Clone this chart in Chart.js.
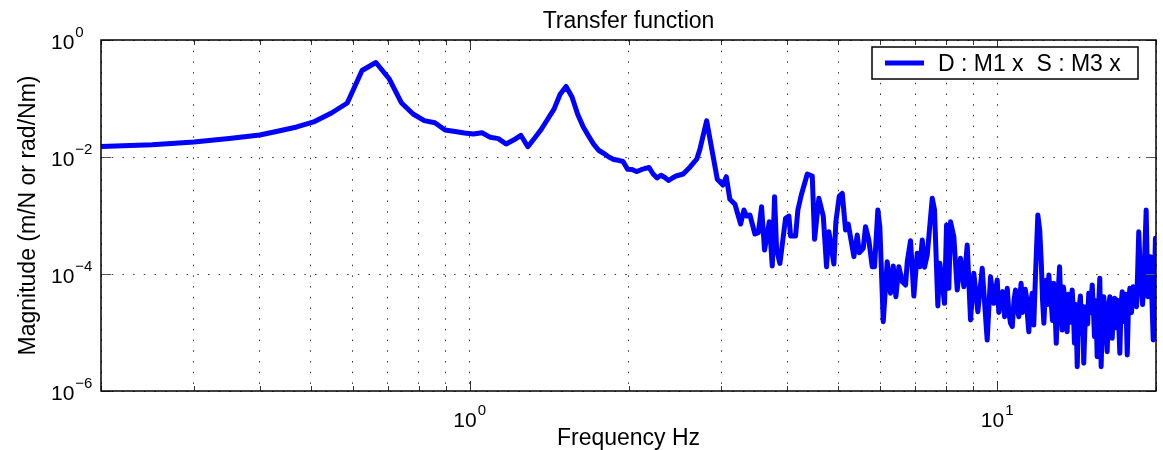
<!DOCTYPE html>
<html>
<head>
<meta charset="utf-8">
<script src="https://cdn.jsdelivr.net/npm/chart.js@4.4.1/dist/chart.umd.min.js"></script>
<style>
  html, body { margin: 0; padding: 0; background: #fff; }
  #wrap { width: 1163px; height: 450px; }
</style>
</head>
<body>
<div id="wrap"><canvas id="tfChart" width="1163" height="450"></canvas></div>
<script>
const FONT = '"Liberation Sans", Arial, Helvetica, sans-serif';

// frequency (Hz) and magnitude
const freqHz = [
  0.2, 0.25, 0.3, 0.35, 0.4, 0.43, 0.47, 0.508, 0.547, 0.586,
  0.625, 0.664, 0.703, 0.742, 0.781, 0.820, 0.859, 0.898, 0.938, 0.977,
  1.016, 1.055, 1.094, 1.133, 1.172, 1.211, 1.25, 1.289, 1.328, 1.367,
  1.406, 1.445, 1.484, 1.523, 1.563, 1.602, 1.641, 1.680, 1.719, 1.758,
  1.797, 1.836, 1.875, 1.914, 1.953, 1.992, 2.031, 2.070, 2.109, 2.148,
  2.188, 2.227, 2.266, 2.305, 2.344, 2.383, 2.422, 2.461, 2.500, 2.539,
  2.578, 2.617, 2.656, 2.695, 2.734, 2.773, 2.813,
  2.947, 3.020, 3.065, 3.113, 3.183, 3.263, 3.310, 3.349, 3.398, 3.473,
  3.525, 3.575, 3.622, 3.698, 3.746, 3.784, 3.818, 3.873, 3.970, 4.028,
  4.058, 4.147, 4.189, 4.252, 4.365, 4.461, 4.506, 4.591, 4.680, 4.748,
  4.796, 4.902, 4.945, 5.019, 5.085, 5.158, 5.219, 5.350, 5.428, 5.476,
  5.572, 5.628, 5.710, 5.795, 5.854, 5.939, 5.991, 6.081, 6.187, 6.277,
  6.352, 6.426, 6.510, 6.607, 6.703, 6.753, 6.850, 6.950, 7.054, 7.134,
  7.210, 7.282, 7.368, 7.531, 7.607, 7.717, 7.785, 7.946, 8.016, 8.097,
  8.157, 8.275, 8.399, 8.520, 8.645, 8.773, 8.901, 9.030, 9.189, 9.367,
  9.572, 9.712, 9.854, 10.00, 10.07, 10.15, 10.24, 10.33, 10.39, 10.45,
  10.52, 10.60, 10.68, 10.76, 10.83, 10.91, 10.99, 11.04, 11.10, 11.17,
  11.23, 11.30, 11.36, 11.42, 11.48, 11.56, 11.65, 11.73, 11.82, 11.94,
  12.04, 12.12, 12.19, 12.26, 12.33, 12.40, 12.46, 12.53, 12.60, 12.66,
  12.73, 12.80, 12.87, 12.94, 13.04, 13.13, 13.20, 13.28, 13.35, 13.41,
  13.49, 13.57, 13.65, 13.73, 13.80, 13.87, 13.94, 14.01, 14.10, 14.18,
  14.25, 14.32, 14.38, 14.45, 14.52, 14.59, 14.68, 14.76, 14.84, 14.91,
  15.02, 15.14, 15.21, 15.29, 15.38, 15.47, 15.56, 15.65, 15.74, 15.83,
  15.92, 16.04, 16.16, 16.26, 16.35, 16.44, 16.52, 16.60, 16.69, 16.78,
  16.88, 16.98, 17.08, 17.17, 17.26, 17.35, 17.43, 17.53, 17.64, 17.74,
  17.84, 17.97, 18.10, 18.23, 18.37, 18.46, 18.55, 18.65, 18.75, 18.86,
  18.96, 19.16, 19.30, 19.53, 19.76, 19.95, 20.0
];
const magnitude = [
  0.01512, 0.0162, 0.0180, 0.0207, 0.0238, 0.0273, 0.0326, 0.0404, 0.0565, 0.0838,
  0.301, 0.412, 0.220, 0.0848, 0.0543, 0.0418, 0.0386, 0.0290, 0.0273, 0.0257,
  0.0247, 0.0260, 0.0217, 0.0206, 0.01668, 0.0195, 0.0235, 0.0150, 0.0211, 0.0298,
  0.0446, 0.0659, 0.1180, 0.1604, 0.1065, 0.0537, 0.0328, 0.0229, 0.01636, 0.01291,
  0.01148, 0.0100, 0.00906, 0.00878, 0.00838, 0.00616, 0.00609, 0.00563, 0.00600, 0.00636,
  0.00662, 0.00512, 0.00438, 0.00487, 0.00446, 0.00397, 0.00438, 0.00473, 0.00492, 0.00512,
  0.00588, 0.00675, 0.00790, 0.00924, 0.01403, 0.02414, 0.0417,
  0.004157, 0.003322, 0.004605, 0.001891, 0.001554, 7.16e-4, 0.001242, 9.80e-4, 0.001020, 4.83e-4,
  5.08e-4, 0.001414, 2.57e-4, 7.83e-4, 1.37e-4, 0.002097, 2.57e-4, 1.52e-4, 8.96e-4, 9.80e-4,
  4.46e-4, 4.46e-4, 0.001242, 0.002241, 0.005122, 0.004733, 3.92e-4, 0.001968, 9.80e-4, 1.33e-4,
  5.28e-4, 1.48e-4, 7.83e-4, 0.002154, 0.002395, 5.65e-4, 7.16e-4, 1.98e-4, 4.64e-4, 2.31e-4,
  2.75e-4, 6.43e-4, 3.81e-4, 1.33e-4, 1.33e-4, 0.001242, 6.43e-4, 1.53e-5, 1.62e-4, 4.68e-5,
  1.37e-4, 4.09e-5, 1.33e-4, 7.38e-5, 6.49e-5, 1.62e-4, 3.71e-4, 4.21e-5, 2.26e-4, 1.33e-4,
  3.81e-4, 1.30e-4, 2.11e-4, 0.001968, 0.001242, 2.84e-5, 1.52e-4, 3.15e-5, 6.88e-4, 5.69e-5,
  7.83e-4, 4.34e-4, 5.33e-5, 1.86e-4, 6.07e-5, 3.13e-4, 1.64e-5, 1.03e-4, 2.27e-5, 1.25e-4,
  7.44e-6, 8.99e-5, 3.15e-5, 7.90e-5, 2.2e-5, 3.59e-5, 5.0e-5, 1.86e-5, 3.2e-5, 5.69e-5,
  2.2e-5, 1.44e-5, 1.26e-5, 3.5e-5, 5.33e-5, 2.6e-5, 1.86e-5, 4.0e-5, 6.93e-5, 2.2e-5,
  2.95e-5, 5.5e-5, 4.09e-5, 1.8e-5, 1.03e-5, 3.0e-5, 4.68e-5, 1.34e-5, 9.61e-5, 0.001020,
  5.65e-4, 1.62e-4, 3.5e-5, 1.44e-5, 4.5e-5, 7.90e-5, 3.0e-5, 9.61e-5, 4.0e-5, 3.15e-5,
  1.6e-5, 6.93e-5, 2.5e-5, 6.54e-6, 4.5e-5, 1.33e-4, 3.0e-5, 1.10e-5, 6.0e-5, 4.38e-5,
  2.0e-5, 1.03e-5, 4.5e-5, 2.42e-5, 1.5e-5, 5.33e-5, 2.5e-5, 6.54e-6, 3.0e-5, 2.60e-6,
  1.4e-5, 2.95e-5, 4.2e-5, 9.69e-6, 2.8e-5, 2.98e-6, 1.6e-5, 2.76e-5, 1.4e-5, 4.68e-5,
  2.2e-5, 6.49e-5, 2.8e-5, 8.48e-6, 3.5e-5, 3.86e-6, 2.5e-5, 8.44e-5, 2.60e-6, 2.0e-5,
  4.09e-5, 1.5e-5, 4.70e-6, 2.8e-5, 4.09e-5, 1.6e-5, 7.96e-6, 3.0e-5, 3.84e-5, 1.2e-5,
  3.59e-5, 1.8e-5, 4.41e-6, 3.0e-5, 4.98e-5, 2.2e-5, 1.53e-5, 4.5e-5, 4.12e-6, 3.0e-5,
  5.69e-5, 2.2e-5, 6.07e-5, 4.0e-5, 2.76e-5, 1.1e-4, 5.28e-4, 1.5e-4, 6.07e-5, 3.0e-5,
  6.49e-5, 0.001242, 4.09e-5, 1.98e-4, 7.44e-6, 4.08e-4, 2.15e-5
];

const seriesLabel = 'D : M1 x  S : M3 x';
const chartTitle = 'Transfer function';
const xTitle = 'Frequency Hz';
const yTitle = 'Magnitude (m/N or rad/Nm)';

// tick positions (grid) and labelled decades
const xTickValues = [0.2, 0.3, 0.4, 0.5, 0.6, 0.7, 0.8, 0.9, 1, 2, 3, 4, 5, 6, 7, 8, 9, 10, 20];
const xLabelValues = [1, 10];
const xLabelExps = ['0', '1'];
const yTickValues = [1e-6, 1e-4, 1e-2, 1];
const yLabelExps = ['\u22126', '\u22124', '\u22122', '0'];

function drawPower(ctx, exp, x, baseline, centered) {
  ctx.font = '21px ' + FONT;
  const wBase = ctx.measureText('10').width;
  ctx.font = '15px ' + FONT;
  const wExp = ctx.measureText(exp).width;
  const left = centered ? x - (wBase + 1 + wExp) / 2 : x;
  ctx.textAlign = 'left';
  ctx.textBaseline = 'alphabetic';
  ctx.font = '21px ' + FONT;
  ctx.fillText('10', left, baseline);
  ctx.font = '15px ' + FONT;
  ctx.fillText(exp, left + wBase + 1, baseline - 12);
}

const matlabAxes = {
  id: 'matlabAxes',
  afterDraw(chart) {
    const ctx = chart.ctx;
    const a = chart.chartArea;
    const xs = chart.scales.x, ys = chart.scales.y;
    ctx.save();

    // inward tick marks
    ctx.lineWidth = 1;
    ctx.strokeStyle = '#333';
    xTickValues.forEach(v => {
      const px = Math.round(xs.getPixelForValue(v)) + 0.5;
      const len = (v === 1 || v === 10) ? 10 : 5;
      ctx.beginPath();
      ctx.moveTo(px, a.bottom); ctx.lineTo(px, a.bottom - len);
      ctx.moveTo(px, a.top); ctx.lineTo(px, a.top + len);
      ctx.stroke();
    });
    ctx.strokeStyle = '#555';
    yTickValues.forEach(v => {
      const py = Math.round(ys.getPixelForValue(v)) + 0.5;
      ctx.beginPath();
      ctx.moveTo(a.left, py); ctx.lineTo(a.left + 10, py);
      ctx.moveTo(a.right, py); ctx.lineTo(a.right - 10, py);
      ctx.stroke();
    });

    // axes box
    ctx.strokeStyle = '#000';
    ctx.lineWidth = 1.5;
    ctx.strokeRect(a.left, a.top, a.right - a.left, a.bottom - a.top);

    // tick labels
    ctx.fillStyle = '#000';
    xLabelValues.forEach((v, i) => {
      drawPower(ctx, xLabelExps[i], xs.getPixelForValue(v), 427, true);
    });
    yTickValues.forEach((v, i) => {
      drawPower(ctx, yLabelExps[i], 51, ys.getPixelForValue(v) + 9, false);
    });

    // titles
    const cx = (a.left + a.right) / 2;
    ctx.font = '23px ' + FONT;
    ctx.textAlign = 'center';
    ctx.textBaseline = 'alphabetic';
    ctx.fillText(chartTitle, cx, 28);
    ctx.fillText(xTitle, cx, 445);
    ctx.save();
    ctx.translate(35, (a.top + a.bottom) / 2);
    ctx.rotate(-Math.PI / 2);
    ctx.fillText(yTitle, 0, 0);
    ctx.restore();

    // legend
    ctx.fillStyle = '#fff';
    ctx.fillRect(872, 47, 266, 32);
    ctx.strokeStyle = '#000';
    ctx.lineWidth = 1.5;
    ctx.strokeRect(872, 47, 266, 32);
    ctx.strokeStyle = '#0000ff';
    ctx.lineWidth = 5;
    ctx.beginPath();
    ctx.moveTo(885, 63); ctx.lineTo(924, 63);
    ctx.stroke();
    ctx.fillStyle = '#000';
    ctx.font = '23px ' + FONT;
    ctx.textAlign = 'left';
    ctx.fillText(seriesLabel, 938, 71);

    ctx.restore();
  }
};

const gridStyle = { drawTicks: false, color: 'rgba(0,0,0,0.8)', lineWidth: 1 };

new Chart(document.getElementById('tfChart'), {
  type: 'line',
  data: {
    datasets: [{
      label: seriesLabel,
      data: freqHz.map((f, i) => ({ x: f, y: magnitude[i] })),
      borderColor: '#0000ff',
      borderWidth: 5,
      borderJoinStyle: 'round',
      borderCapStyle: 'round',
      pointRadius: 0,
      tension: 0,
      fill: false,
      clip: 0
    }]
  },
  options: {
    responsive: false,
    animation: false,
    layout: { padding: { left: 101, right: 7, top: 40, bottom: 59 } },
    plugins: {
      legend: { display: false },
      title: { display: false },
      tooltip: { enabled: false }
    },
    scales: {
      x: {
        type: 'logarithmic',
        min: 0.2,
        max: 20,
        afterBuildTicks: s => { s.ticks = xTickValues.map(v => ({ value: v })); },
        ticks: { display: false },
        grid: gridStyle,
        border: { display: false, dash: [1.5, 9.2] }
      },
      y: {
        type: 'logarithmic',
        min: 1e-6,
        max: 1,
        afterBuildTicks: s => { s.ticks = yTickValues.map(v => ({ value: v })); },
        ticks: { display: false },
        grid: gridStyle,
        border: { display: false, dash: [1.5, 9.2] }
      }
    }
  },
  plugins: [matlabAxes]
});
</script>
</body>
</html>
